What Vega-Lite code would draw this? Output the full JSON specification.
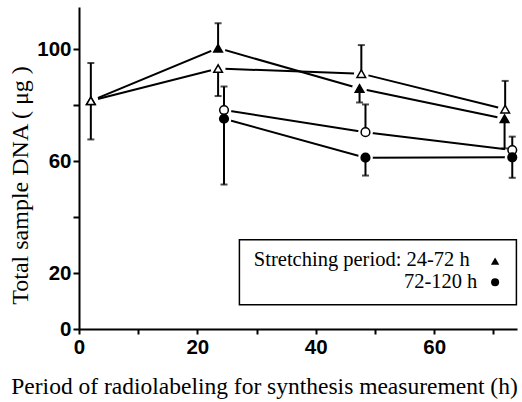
{
  "$schema": "https://vega.github.io/schema/vega-lite/v6.json",
  "width": 438,
  "height": 322,
  "autosize": {"type": "none"},
  "padding": {"left": 79, "top": 7, "right": 5, "bottom": 73},
  "background": "white",
  "config": {
    "view": {"stroke": null},
    "axis": {
      "domainColor": "black", "tickColor": "black", "labelColor": "black", "titleColor": "black",
      "grid": false, "labelFont": "Liberation Sans", "labelFontWeight": "bold", "labelFontSize": 20.5,
      "titleFont": "Liberation Serif", "titleFontWeight": "normal", "titleFontSize": 24,
      "domainWidth": 2, "tickWidth": 2, "labelOverlap": false, "labelFlush": false
    }
  },
  "datasets": {
    "points": [
      {"series": "A", "period": "24-72 h", "fill": "open", "x": 2, "y": 81.5},
      {"series": "A", "period": "24-72 h", "fill": "filled", "x": 23.5, "y": 100.3},
      {"series": "A", "period": "24-72 h", "fill": "filled", "x": 47.4, "y": 85.9},
      {"series": "A", "period": "24-72 h", "fill": "filled", "x": 71.9, "y": 75.1},
      {"series": "B", "period": "24-72 h", "fill": "open", "x": 2, "y": 81.5},
      {"series": "B", "period": "24-72 h", "fill": "open", "x": 23.5, "y": 93.0},
      {"series": "B", "period": "24-72 h", "fill": "open", "x": 47.7, "y": 91.2},
      {"series": "B", "period": "24-72 h", "fill": "open", "x": 72.0, "y": 78.5},
      {"series": "C", "period": "72-120 h", "fill": "open", "x": 24.5, "y": 78.2},
      {"series": "C", "period": "72-120 h", "fill": "open", "x": 48.4, "y": 70.3},
      {"series": "C", "period": "72-120 h", "fill": "open", "x": 73.2, "y": 63.9},
      {"series": "D", "period": "72-120 h", "fill": "filled", "x": 24.5, "y": 75.1},
      {"series": "D", "period": "72-120 h", "fill": "filled", "x": 48.4, "y": 61.2},
      {"series": "D", "period": "72-120 h", "fill": "filled", "x": 73.2, "y": 61.3}
    ],
    "errors": [
      {"x": 2, "y": 81.5, "end": 95.0},
      {"x": 2, "y": 81.5, "end": 67.7},
      {"x": 23.5, "y": 100.3, "end": 109.2},
      {"x": 23.5, "y": 93.0, "end": 83.2},
      {"x": 24.5, "y": 78.2, "end": 86.6},
      {"x": 24.5, "y": 75.1, "end": 51.6},
      {"x": 47.7, "y": 91.2, "end": 101.4},
      {"x": 47.4, "y": 85.9, "end": 80.9},
      {"x": 48.4, "y": 70.3, "end": 80.2},
      {"x": 48.4, "y": 61.2, "end": 54.8},
      {"x": 72.0, "y": 78.5, "end": 88.6},
      {"x": 71.9, "y": 75.1, "end": 64.5},
      {"x": 73.2, "y": 63.9, "end": 68.7},
      {"x": 73.2, "y": 61.3, "end": 54.0}
    ]
  },
  "layer": [
    {
      "encoding": {
        "x": {
          "field": "x", "type": "quantitative",
          "scale": {"domain": [0, 74], "nice": false, "zero": false},
          "axis": {
            "values": [0, 10, 20, 30, 40, 50, 60, 70],
            "labelExpr": "datum.value % 20 === 0 ? datum.label : ''",
            "tickSize": 5, "labelPadding": 3,
            "title": "Period of radiolabeling for synthesis measurement (h)",
            "titleFontSize": 23.5,
            "titleX": 185, "titleY": 64, "titleAlign": "center", "titleBaseline": "alphabetic"
          }
        },
        "y": {
          "field": "y", "type": "quantitative",
          "scale": {"domain": [0, 115], "nice": false, "zero": false},
          "axis": {
            "values": [0, 20, 40, 60, 80, 100],
            "labelExpr": "(datum.value === 40 || datum.value === 80) ? '' : datum.label",
            "tickSize": 6, "labelPadding": 2,
            "title": "Total sample DNA ( μg )",
            "titleX": -52, "titleY": 178, "titleAlign": "center", "titleBaseline": "alphabetic", "titleAngle": -90
          }
        }
      },
      "layer": [
        {
          "data": {"name": "points"},
          "mark": {"type": "line", "color": "black", "strokeWidth": 2},
          "encoding": {"detail": {"field": "series"}}
        },
        {
          "data": {"name": "points"},
          "mark": {"type": "point", "filled": true, "fill": "white", "opacity": 1, "size": 220, "shape": "circle", "strokeWidth": 0}
        },
        {
          "data": {"name": "errors"},
          "mark": {"type": "rule", "color": "black", "strokeWidth": 2},
          "encoding": {"y2": {"field": "end"}}
        },
        {
          "data": {"name": "errors"},
          "mark": {"type": "tick", "orient": "horizontal", "color": "black", "size": 7, "thickness": 2},
          "encoding": {"y": {"field": "end", "type": "quantitative"}}
        },
        {
          "data": {"name": "points"},
          "mark": {"type": "point", "filled": true, "opacity": 1, "stroke": "black", "strokeWidth": 1.5, "size": 75},
          "encoding": {
            "shape": {"field": "period", "type": "nominal", "scale": {"domain": ["24-72 h", "72-120 h"], "range": ["triangle-up", "circle"]}, "legend": null},
            "fill": {"field": "fill", "type": "nominal", "scale": {"domain": ["filled", "open"], "range": ["black", "white"]}, "legend": null}
          }
        }
      ]
    },
    {
      "data": {"values": [{"k": 1}]},
      "mark": {"type": "rect", "fill": "white", "fillOpacity": 0, "stroke": "black", "strokeWidth": 1.5},
      "encoding": {
        "x": {"datum": 27.1, "type": "quantitative"},
        "x2": {"datum": 73.9},
        "y": {"datum": 31.9, "type": "quantitative"},
        "y2": {"datum": 8.7}
      }
    },
    {
      "data": {"values": [{"k": 1}]},
      "mark": {"type": "text", "text": "Stretching period: 24-72 h", "align": "right", "baseline": "alphabetic", "font": "Liberation Serif", "fontSize": 20.5, "color": "black"},
      "encoding": {
        "x": {"datum": 66.0, "type": "quantitative"},
        "y": {"datum": 22.4, "type": "quantitative"}
      }
    },
    {
      "data": {"values": [{"k": 1}]},
      "mark": {"type": "text", "text": "72-120 h", "align": "right", "baseline": "alphabetic", "font": "Liberation Serif", "fontSize": 20.5, "color": "black"},
      "encoding": {
        "x": {"datum": 67.3, "type": "quantitative"},
        "y": {"datum": 14.8, "type": "quantitative"}
      }
    },
    {
      "data": {"values": [{"k": 1}]},
      "mark": {"type": "point", "shape": "triangle-up", "filled": true, "color": "black", "opacity": 1, "size": 70},
      "encoding": {
        "x": {"datum": 70.3, "type": "quantitative"},
        "y": {"datum": 24.2, "type": "quantitative"}
      }
    },
    {
      "data": {"values": [{"k": 1}]},
      "mark": {"type": "point", "shape": "circle", "filled": true, "color": "black", "opacity": 1, "size": 65},
      "encoding": {
        "x": {"datum": 70.3, "type": "quantitative"},
        "y": {"datum": 16.7, "type": "quantitative"}
      }
    }
  ]
}
